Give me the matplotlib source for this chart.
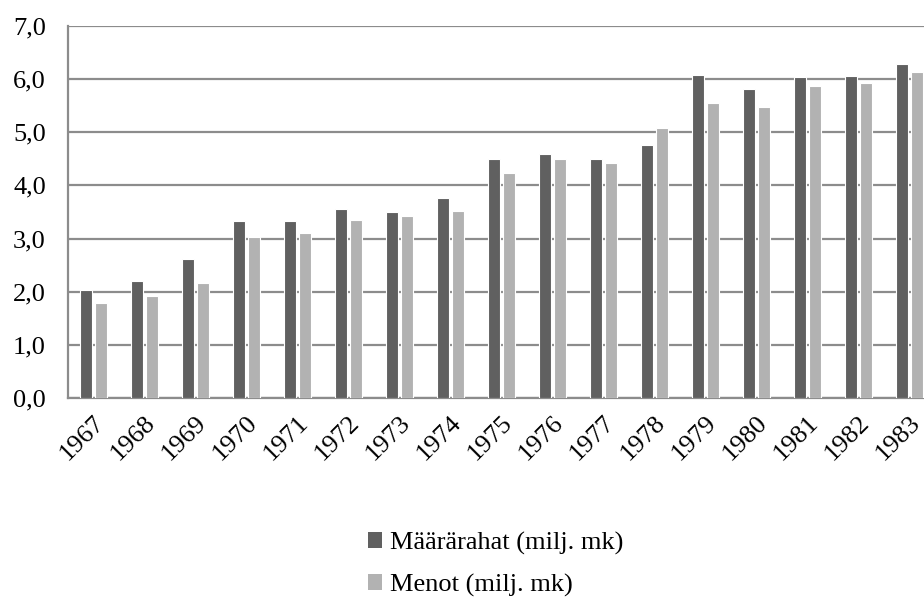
import matplotlib
matplotlib.use("Agg")
import matplotlib.pyplot as plt
import numpy as np
from matplotlib.patches import Patch

years = [str(y) for y in range(1967, 1984)]
maararahat = [2.03, 2.20, 2.61, 3.34, 3.34, 3.55, 3.50, 3.77, 4.49, 4.60, 4.50, 4.76, 6.07, 5.82, 6.04, 6.05, 6.28]
menot = [1.79, 1.91, 2.16, 3.03, 3.10, 3.35, 3.43, 3.52, 4.23, 4.50, 4.42, 5.09, 5.56, 5.48, 5.87, 5.93, 6.13]
series_names = ["Määrärahat (milj. mk)", "Menot (milj. mk)"]
yticks = [0, 1, 2, 3, 4, 5, 6, 7]

dark = "#606060"
light = "#b2b2b2"
grid_c = "#8c8c8c"
fs = 19

plt.rcParams['font.family'] = ['Liberation Serif', 'DejaVu Serif']

fig = plt.figure(figsize=(9.24, 5.97), dpi=100)
ax = fig.add_axes([68/924, 1-398/597, 867/924, (398-26)/597])

x = np.arange(len(years))
w = 0.235
off = 0.144
ax.bar(x - off, maararahat, width=w, color=dark, edgecolor="white", linewidth=0.8, zorder=3)
ax.bar(x + off, menot, width=w, color=light, edgecolor="white", linewidth=0.8, zorder=3)

ax.set_xlim(-0.5, len(years) - 0.5)
ax.set_ylim(0, 7)
ax.set_yticks(yticks)
ax.set_yticklabels([f"{v:.1f}".replace(".", ",") for v in yticks], fontsize=fs)
ax.set_xticks(x)
ax.set_xticklabels(years, rotation=45, ha="right", va="top", rotation_mode="anchor", fontsize=fs)
ax.tick_params(axis="both", length=0)
ax.tick_params(axis="y", pad=16)
ax.tick_params(axis="x", pad=10)

ax.yaxis.grid(True, color=grid_c, linewidth=1.6, zorder=0)
ax.set_axisbelow(True)
for s in ["top", "right"]:
    ax.spines[s].set_visible(False)
ax.spines["left"].set_color(grid_c)
ax.spines["left"].set_linewidth(1.6)
ax.spines["bottom"].set_color(grid_c)
ax.spines["bottom"].set_linewidth(1.6)

handles = [Patch(facecolor=dark, edgecolor="none"), Patch(facecolor=light, edgecolor="none")]
fig.legend(handles, series_names, loc="upper left", bbox_to_anchor=(357/924, 1-521/597),
           frameon=False, fontsize=fs, handlelength=0.55, handleheight=0.55,
           handletextpad=0.3, labelspacing=0.72, borderaxespad=0)

fig.savefig("out.png", dpi=100)
